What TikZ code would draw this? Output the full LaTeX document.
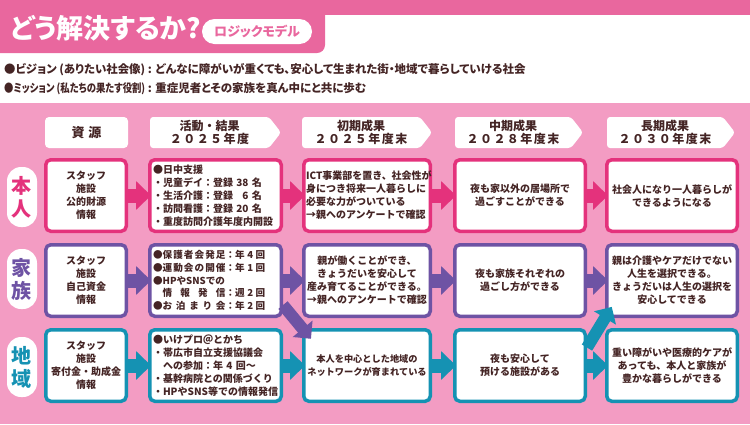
\documentclass[tikz,border=0pt]{standalone}
\usepackage{fontspec}
\usepackage{graphicx}
\setmainfont{Noto Sans CJK JP}
\newfontfamily\propjp{Noto Sans CJK JP}[RawFeature=+palt]
\usetikzlibrary{shapes.symbols,arrows.meta,positioning}
\definecolor{titlepink}{HTML}{E9679E}
\definecolor{bgpink}{HTML}{F39CC3}
\definecolor{selfc}{HTML}{E4327C}
\definecolor{famc}{HTML}{6E53A4}
\definecolor{regc}{HTML}{1592B3}
\definecolor{textbrown}{HTML}{442424}
\newcommand{\boxtext}{\bfseries\fontsize{10}{13}\selectfont}
\newcommand{\headtext}{\bfseries\fontsize{12}{13.5}\selectfont}
\newcommand{\wide}[1]{{\addfontfeature{LetterSpace=12}#1}}
\newcommand{\lead}[1]{\resizebox{141pt}{\height}{#1}}

\tikzset{
  outcome/.style={draw=#1, fill=white, line width=3.5pt, rounded corners=5pt, minimum height=71.5pt, inner sep=0pt, align=center, text=textbrown, font=\boxtext},
  colhead/.style={shape=signal, signal to=east, signal pointer angle=104, fill=white, minimum height=31pt, minimum width=#1, inner sep=0pt, rounded corners=3pt, align=center, text=textbrown, font=\headtext},
  rowlabel/.style={fill=white, rounded corners=14pt, minimum width=30pt, minimum height=60pt, inner sep=0pt, align=center, text=#1, font=\bfseries\fontsize{20}{23}\selectfont},
  blockarrow/.style={draw=#1, line width=14pt, -{Triangle[length=15pt,width=28pt]}, shorten >=-3pt},
  crossarrow/.style={draw=#1, line width=12pt, -{Triangle[length=13pt,width=25pt]}}
}

\begin{document}
\begin{tikzpicture}[x=1pt, y=-1pt]
    \useasboundingbox (0,0) rectangle (750,424);

    % title band
    \fill[titlepink] (0,0) rectangle (750,15);
    \fill[titlepink, rounded corners=8pt] (-10,0) rectangle (325,53);
    \node[anchor=west, inner sep=0pt, text=white, font=\propjp\bfseries\fontsize{27}{27}\selectfont] (title) at (10,28) {どう解決するか?};
    \node[fill=white, rounded corners=12.5pt, minimum width=110pt, minimum height=25pt, text=titlepink, font=\propjp\bfseries\fontsize{13}{13}\selectfont] (subtitle) at (257,31.5) {ロジックモデル};

    \node[anchor=west, inner sep=0pt, text=textbrown, font=\propjp\bfseries\fontsize{11.5}{12}\selectfont] (vision) at (4,70) {\lead{●ビジョン (ありたい社会像)} : どんなに障がいが重くても、安心して生まれた街・地域で暮らしていける社会};
    \node[anchor=west, inner sep=0pt, text=textbrown, font=\propjp\bfseries\fontsize{11.5}{12}\selectfont] (mission) at (4,89) {\lead{●ミッション (私たちの果たす役割)} : 重症児者とその家族を真ん中にと共に歩む};

    \fill[bgpink] (0,103) rectangle (750,424);

    % column heads
    \node[fill=white, rounded corners=4pt, minimum width=83pt, minimum height=31pt, text=textbrown, font=\bfseries\fontsize{13}{13}\selectfont] (hres) at (86.5,132.5) {資\hspace{4pt}源};
    \node[colhead=131pt] (hact) at (209.5,132.5) {活動・結果\\\wide{２０２５年度}};
    \node[colhead=130pt] (hshort) at (361,132.5) {初期成果\\\wide{２０２５年度末}};
    \node[colhead=128pt] (hmid) at (513,132.5) {中期成果\\\wide{２０２８年度末}};
    \node[colhead=128pt] (hlong) at (665,132.5) {長期成果\\\wide{２０３０年度末}};

    % row labels and resources
    \foreach \r/\c/\y/\ly/\lbl/\fund in {self/selfc/195.5/197/本\\人/公的財源, fam/famc/280.5/279/家\\族/自己資金, reg/regc/365.5/367/地\\域/寄付金・助成金} {
        \node[rowlabel=\c] (\r lab) at (22,\ly) {\lbl};
        \node[outcome=\c, minimum width=80.5pt] (\r1) at (86,\y) {スタッフ\\施設\\\fund\\情報};
    }

    % self
    \node[outcome=selfc, minimum width=131.5pt, text width=125pt, align=left] (self2) at (215.5,195.5) {●日中支援\\・児童デイ：登録 38 名\\・生活介護：登録 \phantom{3}6 名\\・訪問看護：登録 20 名\\・重度訪問介護年度内開設};
    \node[outcome=selfc, minimum width=126.5pt, text width=122pt, align=left] (self3) at (367,195.5) {ICT事業部を置き、社会性が\\身につき将来一人暮らしに\\必要な力がついている\\→親へのアンケートで確認};
    \node[outcome=selfc, minimum width=130.5pt] (self4) at (520,195.5) {夜も家以外の居場所で\\過ごすことができる};
    \node[outcome=selfc, minimum width=130.5pt] (self5) at (672,195.5) {社会人になり一人暮らしが\\できるようになる};

    % family
    \node[outcome=famc, minimum width=131.5pt, text width=125pt, align=left, font=\bfseries\fontsize{9.6}{12.6}\selectfont] (fam2) at (215.5,280.5) {●\makebox[63pt]{保\hfill 護\hfill 者\hfill 会\hfill 発\hfill 足}：\makebox[30pt]{年\hfill 4\hfill 回}\\●\makebox[63pt]{運\hfill 動\hfill 会\hfill の\hfill 開\hfill 催}：\makebox[30pt]{年\hfill 1\hfill 回}\\●HPやSNSでの\\　\makebox[63pt]{情\hfill 報\hfill 発\hfill 信}：\makebox[30pt]{週\hfill 2\hfill 回}\\●\makebox[63pt]{お\hfill 泊\hfill ま\hfill り\hfill 会}：\makebox[30pt]{年\hfill 2\hfill 回}};
    \node[outcome=famc, minimum width=126.5pt] (fam3) at (367,280.5) {親が働くことができ、\\きょうだいを安心して\\産み育てることができる。\\→親へのアンケートで確認};
    \node[outcome=famc, minimum width=130.5pt] (fam4) at (520,280.5) {夜も家族それぞれの\\過ごし方ができる};
    \node[outcome=famc, minimum width=130.5pt] (fam5) at (672,280.5) {親は介護やケアだけでない\\人生を選択できる。\\きょうだいは人生の選択を\\安心してできる};

    % region
    \node[outcome=regc, minimum width=131.5pt, text width=125pt, align=left] (reg2) at (215.5,365.5) {●いけプロ＠とかち\\・帯広市自立支援協議会\\　への参加：年 4 回～\\・基幹病院との関係づくり\\・HPやSNS等での情報発信};
    \node[outcome=regc, minimum width=126.5pt, font=\bfseries\fontsize{9.2}{13}\selectfont] (reg3) at (367,365.5) {本人を中心とした地域の\\ネットワークが育まれている};
    \node[outcome=regc, minimum width=130.5pt] (reg4) at (520,365.5) {夜も安心して\\預ける施設がある};
    \node[outcome=regc, minimum width=130.5pt] (reg5) at (672,365.5) {重い障がいや医療的ケアが\\あっても、本人と家族が\\豊かな暮らしができる};

    % arrows
    \foreach \r/\c in {self/selfc, fam/famc, reg/regc} {
        \foreach \i [count=\j from 2] in {1,...,4} {
            \draw[blockarrow=\c] (\r\i) -- (\r\j);
        }
    }
    \draw[crossarrow=famc, shorten >=-14pt] (fam2.-20) -- (reg3.north west);
    \draw[crossarrow=regc, shorten >=-13pt] (reg4.15) -- (fam5.south west);
\end{tikzpicture}
\end{document}
